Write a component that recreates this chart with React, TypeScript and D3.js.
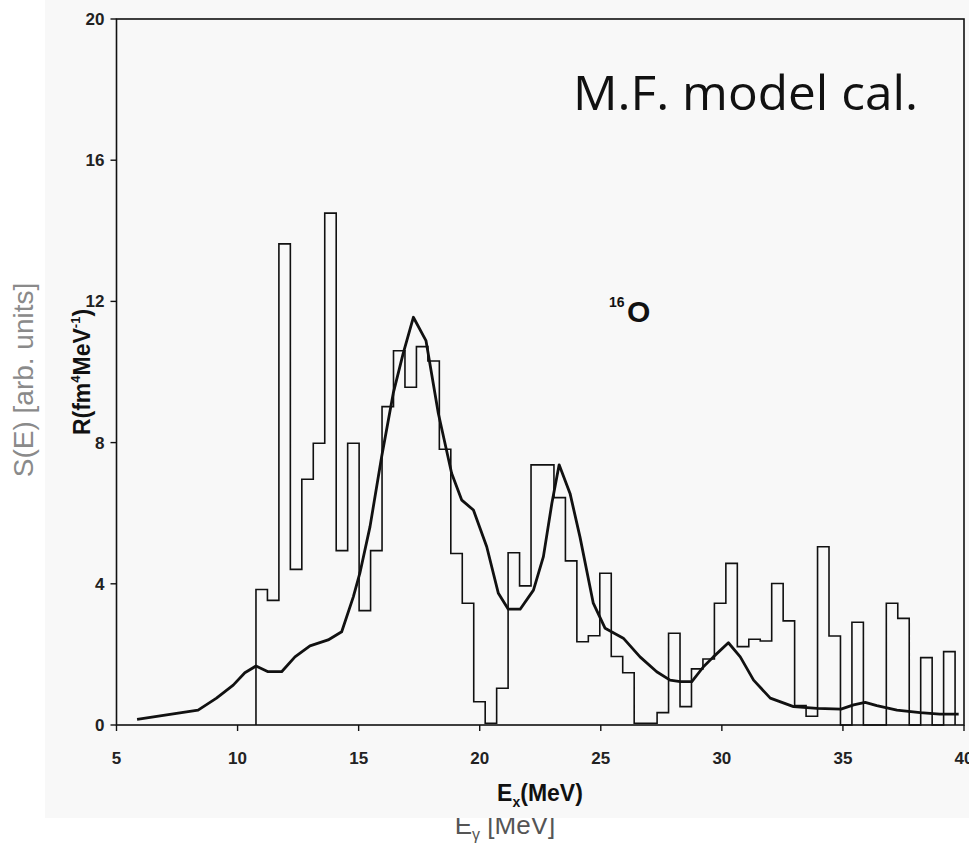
import React from "react";
import * as d3 from "d3";

// ---- data ----
const xTicks = [5, 10, 15, 20, 25, 30, 35, 40];
const yTicks = [0, 4, 8, 12, 16, 20];

// experimental histogram: uniform bins starting at binStart (MeV)
const binStart = 10.76;
const binWidth = 0.4733;
const binValues = [
  3.84, 3.53, 13.63, 4.41, 6.96, 7.98, 14.5, 4.94, 7.98, 3.24,
  4.94, 9.02, 10.6, 9.57, 10.72, 10.31, 7.81, 4.86, 3.45, 0.66,
  0.05, 1.04, 4.88, 3.94, 7.37, 7.37, 6.44, 4.65, 2.36, 2.53,
  4.3, 1.94, 1.48, 0.05, 0.05, 0.35, 2.6, 0.52, 1.59, 1.87,
  3.45, 4.58, 2.22, 2.43, 2.38, 4.01, 2.95, 0.55, 0.25, 5.05,
  2.52, 0, 2.91, 0, 0, 3.45, 3.02, 0, 1.91, 0, 2.08,
];

// model calculation curve (Ex in MeV, R)
const curveE = [
  5.85, 7.48, 8.37, 9.13, 9.82, 10.3, 10.76, 11.26, 11.82, 12.37,
  12.99, 13.74, 14.3, 14.78, 15.05, 15.47, 15.95, 16.43, 16.84, 17.26,
  17.78, 18.29, 18.84, 19.26, 19.74, 20.29, 20.77, 21.18, 21.67, 22.22,
  22.63, 22.98, 23.28, 23.73, 24.14, 24.69, 25.18, 25.93, 26.62, 27.31,
  27.86, 28.28, 28.76, 29.24, 29.65, 30.27, 30.76, 31.31, 32.0, 32.96,
  33.93, 34.92, 35.44, 35.92, 36.4, 37.23, 38.19, 39.0, 39.78,
];
const curveR = [
  0.16, 0.33, 0.42, 0.76, 1.13, 1.48, 1.67, 1.51, 1.51, 1.93,
  2.24, 2.41, 2.64, 3.63, 4.3, 5.62, 7.6, 9.4, 10.53, 11.55,
  10.89, 8.83, 7.13, 6.37, 6.09, 5.05, 3.73, 3.28, 3.28, 3.82,
  4.77, 6.28, 7.37, 6.56, 5.33, 3.45, 2.74, 2.46, 1.93, 1.51,
  1.27, 1.23, 1.23, 1.65, 1.93, 2.33, 1.93, 1.27, 0.76, 0.52,
  0.47, 0.45, 0.57, 0.64, 0.55, 0.42, 0.35, 0.31, 0.31,
];

const W = 969;
const H = 845;
const ink = "#111";

export default function App() {
  const x = d3.scaleLinear().domain([5, 40]).range([116.5, 964]);
  const y = d3.scaleLinear().domain([0, 20]).range([725, 19]);

  const histPts: [number, number][] = [[binStart, 0]];
  binValues.forEach((v, i) => histPts.push([binStart + i * binWidth, v]));
  const endE = binStart + binValues.length * binWidth;
  histPts.push([endE, binValues[binValues.length - 1]]);
  histPts.push([endE, 0]);
  const histPath = d3
    .line<[number, number]>()
    .x((d) => x(d[0]))
    .y((d) => y(d[1]))
    .curve(d3.curveStepAfter)(histPts) as string;

  const curvePts: [number, number][] = curveE.map((e, i) => [e, curveR[i]]);
  const curvePath = d3
    .line<[number, number]>()
    .x((d) => x(d[0]))
    .y((d) => y(d[1]))
    .curve(d3.curveLinear)(curvePts) as string;

  const x0 = x.range()[0];
  const x1 = x.range()[1];
  const yb = y.range()[0];
  const yt = y.range()[1];
  const bold = "'Liberation Sans', Arial, sans-serif";

  return (
    <svg
      width={W}
      height={H}
      style={{ position: "absolute", left: 0, top: 0, background: "#fff" }}
    >
      {/* ghost labels from underlying slide */}
      <text
        transform="translate(33,380) rotate(-90)"
        textAnchor="middle"
        fontFamily={bold}
        fontSize={28}
        fill="#8a8a8a"
      >
        S(E) [arb. units]
      </text>
      <text
        x={505}
        y={834}
        textAnchor="middle"
        fontFamily={bold}
        fontSize={26}
        fill="#555"
      >
        E
        <tspan fontSize={16} dy={6}>γ</tspan>
        <tspan dy={-6}> [MeV]</tspan>
      </text>
      <rect x={45} y={0} width={W - 45} height={818} fill="#f8f8f8" />

      {/* frame */}
      <rect
        x={x0}
        y={yt}
        width={x1 - x0}
        height={yb - yt}
        fill="none"
        stroke={ink}
        strokeWidth={1.6}
      />

      {/* y ticks */}
      {yTicks.map((t) => (
        <g key={"y" + t}>
          <line x1={x0 - 6} x2={x0} y1={y(t)} y2={y(t)} stroke={ink} strokeWidth={1.4} />
          <text
            x={x0 - 12}
            y={y(t) + 6}
            textAnchor="end"
            fontFamily={bold}
            fontWeight="bold"
            fontSize={17}
            fill="#222"
          >
            {t}
          </text>
        </g>
      ))}
      {/* x ticks */}
      {xTicks.map((t) => (
        <g key={"x" + t}>
          <line x1={x(t)} x2={x(t)} y1={yb} y2={yb + 6} stroke={ink} strokeWidth={1.4} />
          <text
            x={x(t)}
            y={yb + 39}
            textAnchor="middle"
            fontFamily={bold}
            fontWeight="bold"
            fontSize={17}
            fill="#222"
          >
            {t}
          </text>
        </g>
      ))}

      {/* histogram */}
      <path d={histPath} fill="none" stroke={ink} strokeWidth={1.6} strokeLinejoin="miter" />
      {/* model curve */}
      <path d={curvePath} fill="none" stroke={ink} strokeWidth={2.8} strokeLinejoin="round" />

      {/* axis titles */}
      <text
        transform="translate(90,372) rotate(-90)"
        textAnchor="middle"
        fontFamily={bold}
        fontWeight="bold"
        fontSize={23}
        fill={ink}
      >
        R(fm
        <tspan fontSize={13} dy={-10}>4</tspan>
        <tspan dy={10}>MeV</tspan>
        <tspan fontSize={13} dy={-10}>-1</tspan>
        <tspan dy={10}>)</tspan>
      </text>
      <text
        x={540}
        y={801}
        textAnchor="middle"
        fontFamily={bold}
        fontWeight="bold"
        fontSize={23}
        fill={ink}
      >
        E
        <tspan fontSize={14} dy={6}>x</tspan>
        <tspan dy={-6}>(MeV)</tspan>
      </text>

      {/* annotations */}
      <text x={609} y={307} fontFamily={bold} fontWeight="bold" fontSize={14} fill={ink}>
        16
      </text>
      <text x={627} y={322} fontFamily={bold} fontWeight="bold" fontSize={30} fill={ink}>
        O
      </text>
      <text
        x={573}
        y={110}
        fontFamily="'Open Sans', 'Noto Sans', sans-serif"
        fontSize={47}
        textLength={345}
        lengthAdjust="spacingAndGlyphs"
        fill="#111"
      >
        M.F. model cal.
      </text>
    </svg>
  );
}
